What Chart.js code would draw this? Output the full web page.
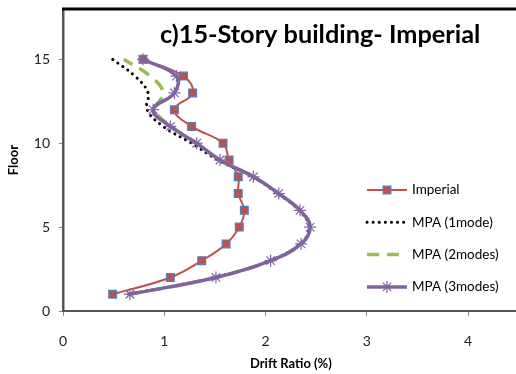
<!DOCTYPE html>
<html>
<head>
<meta charset="utf-8">
<script src="https://cdn.jsdelivr.net/npm/chart.js@4/dist/chart.umd.min.js"></script>
<style>
  html, body { margin: 0; padding: 0; background: #fff; overflow: hidden; }
  #wrap { width: 526px; height: 374px; }
</style>
</head>
<body>
<div id="wrap"><canvas id="drift"></canvas></div>
<script>
const floors = [1, 2, 3, 4, 5, 6, 7, 8, 9, 10, 11, 12, 13, 14, 15];
const imperial = [0.49, 1.06, 1.37, 1.61, 1.74, 1.79, 1.73, 1.73, 1.64, 1.58, 1.27, 1.10, 1.28, 1.19, 0.79];
const mpa1 = [0.65, 1.50, 2.04, 2.34, 2.43, 2.33, 2.12, 1.87, 1.53, 1.27, 0.99, 0.83, 0.84, 0.71, 0.49];
const mpa2 = [0.66, 1.51, 2.05, 2.35, 2.44, 2.34, 2.13, 1.88, 1.55, 1.32, 1.07, 0.91, 0.99, 0.86, 0.60];
const mpa3 = [0.66, 1.51, 2.05, 2.35, 2.44, 2.34, 2.13, 1.88, 1.55, 1.32, 1.06, 0.89, 1.10, 1.12, 0.79];
const xTicks = [0, 1, 2, 3, 4];
const yTicks = [0, 5, 10, 15];
const labels = ["Imperial", "MPA (1mode)", "MPA (2modes)", "MPA (3modes)"];

const pts = vals => vals.map((v, i) => ({ x: v, y: floors[i] }));
const font = "Lato, 'Open Sans', sans-serif";

// legend drawn inside the plot, right side
const sideLegend = {
  id: "sideLegend",
  afterDraw(chart) {
    const ctx = chart.ctx;
    const a = chart.chartArea;
    const x0 = a.left + 304, x1 = a.left + 344;
    chart.data.datasets.forEach((ds, i) => {
      const y = 190 + i * 32.3;
      ctx.save();
      ctx.strokeStyle = ds.borderColor;
      ctx.lineWidth = ds.borderWidth;
      ctx.lineCap = ds.borderCapStyle || "butt";
      ctx.setLineDash(ds.borderDash || []);
      ctx.beginPath();
      ctx.moveTo(x0, y);
      ctx.lineTo(x1, y);
      ctx.stroke();
      ctx.setLineDash([]);
      if (ds.pointRadius > 0) {
        ctx.fillStyle = ds.pointBackgroundColor;
        ctx.strokeStyle = ds.pointBorderColor;
        ctx.lineWidth = ds.pointBorderWidth;
        Chart.helpers.drawPoint(ctx, {
          pointStyle: ds.pointStyle, rotation: 0,
          radius: ds.pointRadius, borderWidth: ds.pointBorderWidth
        }, (x0 + x1) / 2, y);
      }
      ctx.fillStyle = "#000";
      ctx.font = "13.5px " + font;
      ctx.textBaseline = "middle";
      ctx.fillText(labels[i], x1 + 5, y);
      ctx.restore();
    });
  }
};

// heading inside the frame plus the top border line
const frame = {
  id: "frame",
  afterDraw(chart) {
    const ctx = chart.ctx;
    const a = chart.chartArea;
    ctx.save();
    ctx.strokeStyle = "#000";
    ctx.lineWidth = 3;
    ctx.beginPath();
    ctx.moveTo(a.left - 1, a.top);
    ctx.lineTo(chart.width, a.top);
    ctx.stroke();

    const text = "c)15-Story building- Imperial";
    ctx.font = "bold 26px " + font;
    const w = ctx.measureText(text).width;
    const size = 26 * 320 / w;
    ctx.font = "bold " + size.toFixed(1) + "px " + font;
    ctx.fillStyle = "#000";
    ctx.textAlign = "left";
    ctx.textBaseline = "alphabetic";
    ctx.fillText(text, 160, 43);
    ctx.restore();
  }
};

new Chart(document.getElementById("drift"), {
  type: "scatter",
  data: {
    datasets: [
      {
        data: pts(imperial), showLine: true, tension: 0.4,
        borderColor: "#C0504D", borderWidth: 2,
        pointStyle: "rect", pointRadius: 5.5, pointBackgroundColor: "#C0504D",
        pointBorderColor: "#4F81BD", pointBorderWidth: 1.2, order: 4
      },
      {
        data: pts(mpa1), showLine: true, tension: 0.4,
        borderColor: "#000", borderWidth: 3, borderDash: [0.1, 6], borderCapStyle: "round",
        pointRadius: 0, order: 3
      },
      {
        data: pts(mpa2), showLine: true, tension: 0.4,
        borderColor: "#9BBB59", borderWidth: 3.5, borderDash: [12, 8],
        pointRadius: 0, order: 2
      },
      {
        data: pts(mpa3), showLine: true, tension: 0.4,
        borderColor: "#8064A2", borderWidth: 3.5,
        pointStyle: "star", pointRadius: 6, pointBackgroundColor: "#8064A2",
        pointBorderColor: "#8064A2", pointBorderWidth: 1.2, order: 1
      }
    ]
  },
  options: {
    responsive: true,
    maintainAspectRatio: false,
    animation: false,
    layout: { padding: { top: 9, right: 0, left: 0, bottom: 0 } },
    plugins: { legend: { display: false }, tooltip: { enabled: false } },
    scales: {
      x: {
        type: "linear", min: 0, max: 4.5,
        afterBuildTicks: s => { s.ticks = xTicks.map(v => ({ value: v })); },
        afterFit: s => { s.height = 63; s.paddingLeft = 0; s.paddingRight = 0; },
        grid: { drawOnChartArea: false, drawTicks: true, tickLength: 5, tickColor: "#888" },
        border: { color: "#555", width: 2 },
        ticks: { padding: 17, color: "#222", font: { family: font, size: 14 } },
        title: { display: true, text: "Drift Ratio (%)", color: "#000", padding: { top: 0, bottom: 2 },
                 font: { family: font, size: 13, weight: "bold" } }
      },
      y: {
        type: "linear", min: 0, max: 18,
        afterBuildTicks: s => { s.ticks = yTicks.map(v => ({ value: v })); },
        afterFit: s => { s.width = 63; s.paddingTop = 0; s.paddingBottom = 0; },
        grid: { drawOnChartArea: false, drawTicks: true, tickLength: 4, tickColor: "#888" },
        border: { color: "#555", width: 2.5 },
        ticks: { padding: 9, color: "#222", font: { family: font, size: 14 } },
        title: { display: true, text: "Floor", color: "#000", padding: { top: 6, bottom: 0 },
                 font: { family: font, size: 13, weight: "bold" } }
      }
    }
  },
  plugins: [frame, sideLegend]
});
</script>
</body>
</html>
